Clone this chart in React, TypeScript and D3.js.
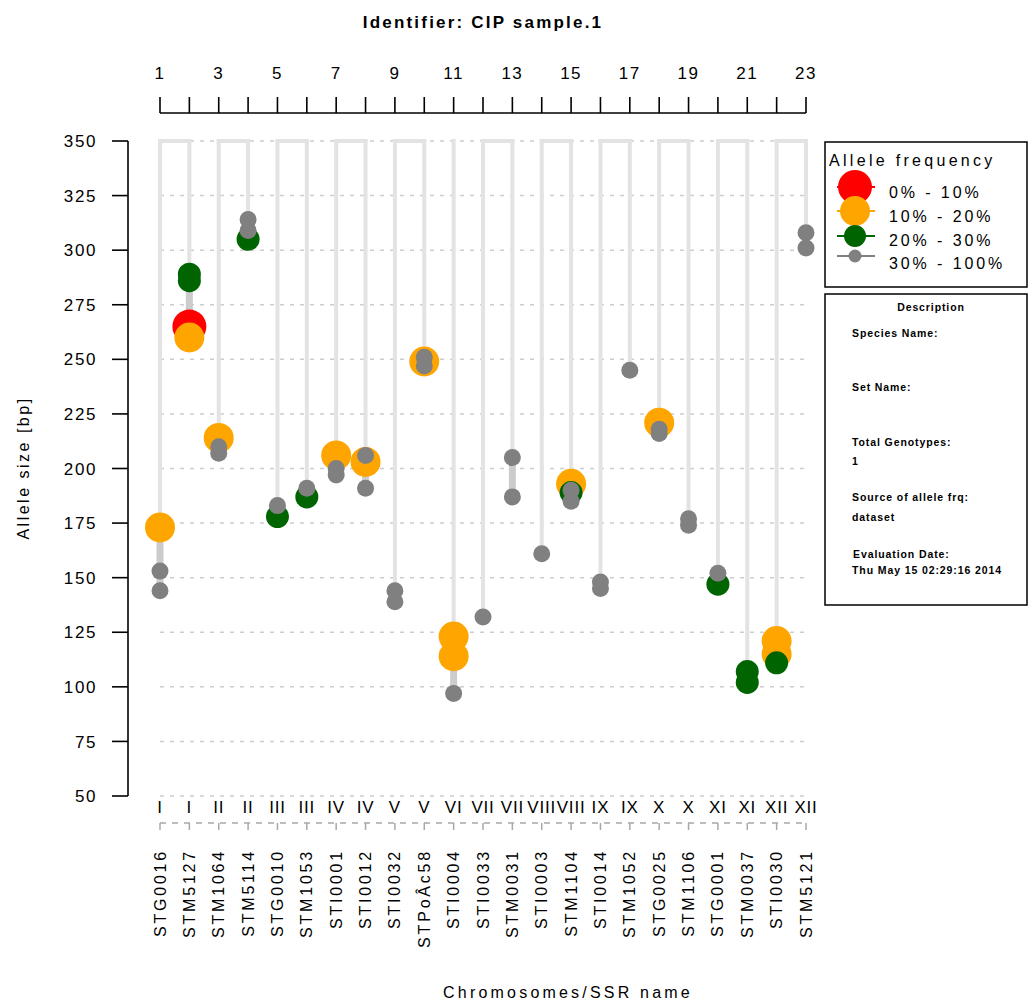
import React from "react";
import * as d3 from "d3";

const markers = ["STG0016","STM5127","STM1064","STM5114","STG0010","STM1053","STI0001","STI0012","STI0032","STPoÂc58","STI0004","STI0033","STM0031","STI0003","STM1104","STI0014","STM1052","STG0025","STM1106","STG0001","STM0037","STI0030","STM5121"];
const chromosomes = ["I","I","II","II","III","III","IV","IV","V","V","VI","VII","VII","VIII","VIII","IX","IX","X","X","XI","XI","XII","XII"];
const topTicks = d3.range(1, 24);
const yTicks = [50, 75, 100, 125, 150, 175, 200, 225, 250, 275, 300, 325, 350];

// alleles per frequency class: [marker position (1-based), allele size bp]
const redAlleles: [number, number][] = [[2, 265]];
const orangeAlleles: [number, number][] = [[1,173],[2,260],[3,214],[7,206],[8,203],[10,249],[11,123],[11,114],[15,193],[18,221],[22,121],[22,115]];
const greenAlleles: [number, number][] = [[2,289],[2,286],[4,305],[5,178],[6,187],[15,189],[20,147],[21,107],[21,102],[22,111]];
const grayAlleles: [number, number][] = [[1,153],[1,144],[3,210],[3,207],[4,314],[4,309],[5,183],[6,191],[7,200],[7,197],[8,206],[8,191],[9,144],[9,139],[10,251],[10,247],[11,97],[12,132],[13,205],[13,187],[14,161],[15,190],[15,185],[16,148],[16,145],[17,245],[18,218],[18,216],[19,177],[19,174],[20,152],[23,308],[23,301]];

const legendLabels = ["0% - 10%", "10% - 20%", "20% - 30%", "30% - 100%"];
const legendColors = ["#ff0000", "#ffa500", "#006400", "#808080"];
const plotRadius = [17, 15, 11.5, 8.5];
const legendRadius = [17, 15, 11, 6.5];

const FONT = "'Liberation Sans', Arial, sans-serif";

export default function App() {
  const W = 1029, H = 1002;
  const x = d3.scaleLinear().domain([1, 23]).range([160, 806]);
  const y = d3.scaleLinear().domain([50, 350]).range([796, 141]);

  const classes = [redAlleles, orangeAlleles, greenAlleles, grayAlleles];
  const all = classes.flat();
  const byMarker = d3.group(all, (d) => d[0]);

  const groups: number[][] = [];
  chromosomes.forEach((c, i) => {
    const last = groups[groups.length - 1];
    if (last && chromosomes[last[0] - 1] === c) last.push(i + 1);
    else groups.push([i + 1]);
  });

  const top = y(350);

  return (
    <svg width={W} height={H} style={{ position: "absolute", left: 0, top: 0, background: "#fff" }} fontFamily={FONT}>
      <text x={483} y={28} textAnchor="middle" fontSize={17} fontWeight="bold" letterSpacing={2.2}>Identifier: CIP sample.1</text>

      {/* top axis */}
      <line x1={x(1)} x2={x(23)} y1={113} y2={113} stroke="#000" strokeWidth={1.6} />
      {topTicks.map((t) => (
        <line key={"tt" + t} x1={x(t)} x2={x(t)} y1={97} y2={113} stroke="#000" strokeWidth={1.6} />
      ))}
      {topTicks.filter((t) => t % 2 === 1).map((t) => (
        <text key={"tl" + t} x={x(t)} y={79} textAnchor="middle" fontSize={17} letterSpacing={1.5}>{t}</text>
      ))}

      {/* grid */}
      {yTicks.map((v) => (
        <line key={"g" + v} x1={x(1)} x2={x(23)} y1={y(v)} y2={y(v)} stroke="#cdcdcd" strokeWidth={1.5} strokeDasharray="4,6" />
      ))}

      {/* chromosome stems */}
      {groups.map((g, gi) => {
        const xs = g.map((m) => x(m));
        return (
          <g key={"grp" + gi}>
            {g.length > 1 && (
              <line x1={xs[0] - 2} x2={xs[xs.length - 1] + 2} y1={top} y2={top} stroke="#e3e3e3" strokeWidth={4} />
            )}
            {g.map((m) => {
              const vals = (byMarker.get(m) || []).map((d) => d[1]);
              const mx = d3.max(vals) ?? 50;
              const mn = d3.min(vals) ?? 50;
              return (
                <g key={"st" + m}>
                  <line x1={x(m)} x2={x(m)} y1={top - 2} y2={y(mx)} stroke="#e3e3e3" strokeWidth={4} />
                  <line x1={x(m)} x2={x(m)} y1={y(mx)} y2={y(mn)} stroke="#cccccc" strokeWidth={7} />
                </g>
              );
            })}
          </g>
        );
      })}

      {/* alleles */}
      {classes.map((arr, ci) => (
        <g key={"c" + ci}>
          {arr.map((d, i) => (
            <circle key={i} cx={x(d[0])} cy={y(d[1])} r={plotRadius[ci]} fill={legendColors[ci]} />
          ))}
        </g>
      ))}

      {/* y axis */}
      <line x1={128} x2={128} y1={y(350)} y2={y(50)} stroke="#000" strokeWidth={1.6} />
      {yTicks.map((v) => (
        <g key={"yt" + v}>
          <line x1={112} x2={128} y1={y(v)} y2={y(v)} stroke="#000" strokeWidth={1.6} />
          <text x={97} y={y(v)} dy="0.36em" textAnchor="end" fontSize={17} letterSpacing={1.6}>{v}</text>
        </g>
      ))}
      <text transform={`translate(29,468) rotate(-90)`} textAnchor="middle" fontSize={16} letterSpacing={2.5}>Allele size [bp]</text>

      {/* bottom chromosome labels */}
      {chromosomes.map((c, i) => (
        <text key={"cr" + i} x={x(i + 1)} y={813} textAnchor="middle" fontSize={17} letterSpacing={0.8}>{c}</text>
      ))}
      <line x1={x(1)} x2={x(23)} y1={823} y2={823} stroke="#a8a8a8" strokeWidth={1.5} strokeDasharray="6,6" />
      {topTicks.map((t) => (
        <line key={"bt" + t} x1={x(t)} x2={x(t)} y1={823} y2={830} stroke="#a8a8a8" strokeWidth={1.5} />
      ))}
      {markers.map((m, i) => (
        <text key={"mk" + i} transform={`translate(${x(i + 1)},849) rotate(-90)`} textAnchor="end" dominantBaseline="central" fontSize={16} letterSpacing={2.8}>{m}</text>
      ))}
      <text x={568} y={998} textAnchor="middle" fontSize={16} letterSpacing={3.2}>Chromosomes/SSR name</text>

      {/* legend */}
      <rect x={825} y={142} width={202} height={145} fill="#fff" stroke="#000" strokeWidth={1.5} />
      <text x={829} y={166} fontSize={16} letterSpacing={3.3}>Allele frequency</text>
      {legendLabels.map((l, i) => {
        const cy = [187, 211, 236, 256][i];
        return (
          <g key={"lg" + i}>
            <line x1={837} x2={875} y1={cy} y2={cy} stroke={legendColors[i]} strokeWidth={2} />
            <circle cx={855} cy={cy} r={legendRadius[i]} fill={legendColors[i]} />
            <text x={889} y={[192, 216, 240, 263][i]} dy="0.36em" fontSize={16} letterSpacing={2.9}>{l}</text>
          </g>
        );
      })}

      {/* description */}
      <rect x={825} y={294} width={202} height={311} fill="#fff" stroke="#000" strokeWidth={1.5} />
      <g fontSize={10.5} fontWeight="bold" letterSpacing={0.9}>
        <text x={931} y={311} textAnchor="middle">Description</text>
        <text x={852} y={337}>Species Name:</text>
        <text x={852} y={391}>Set Name:</text>
        <text x={852} y={446}>Total Genotypes:</text>
        <text x={852} y={465}>1</text>
        <text x={852} y={501}>Source of allele frq:</text>
        <text x={852} y={521}>dataset</text>
        <text x={853} y={558}>Evaluation Date:</text>
        <text x={852} y={574}>Thu May 15 02:29:16 2014</text>
      </g>
    </svg>
  );
}
